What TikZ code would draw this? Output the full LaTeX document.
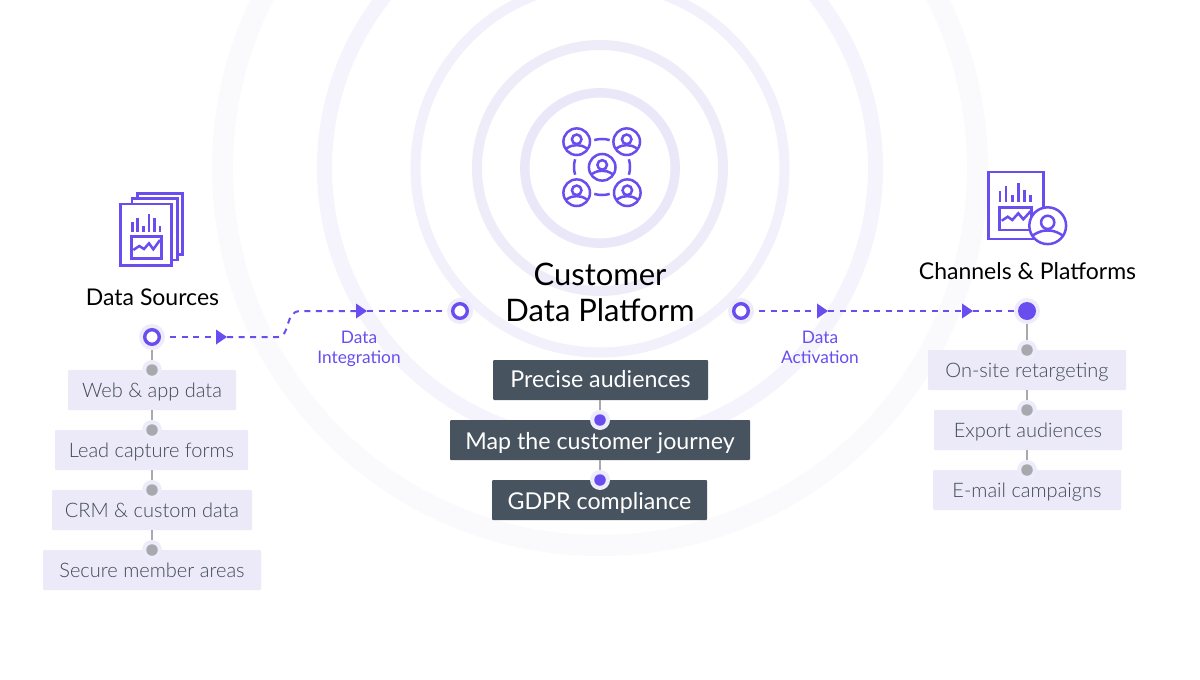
\documentclass[tikz,border=0pt]{standalone}
\usepackage{fontspec}
\setmainfont{Lato}
\newfontfamily\latol{Lato Light}
\usetikzlibrary{arrows.meta}
\definecolor{pur}{HTML}{6A4DEE}
\definecolor{ink}{HTML}{47535E}
\definecolor{pale}{HTML}{ECEAF8}
\definecolor{halo}{HTML}{EEECFA}
\definecolor{gry}{HTML}{A7A9AE}
\definecolor{txt}{HTML}{3E4954}
\definecolor{ringa}{HTML}{EAE8F8}
\definecolor{ringb}{HTML}{EEECF9}
\definecolor{ringc}{HTML}{F1F0FB}
\definecolor{ringd}{HTML}{F5F4FC}
\definecolor{ringe}{HTML}{FAFAFD}
\newcommand{\fs}[1]{\fontsize{#1}{#1}\selectfont}
\tikzset{
  x=1pt,y=-1pt,
  lightbox/.style={fill=pale,text=txt,minimum height=40pt,inner sep=0pt,rounded corners=1pt,font=\latol\fs{20},text height=14pt,text depth=0pt},
  darkbox/.style={fill=ink,text=white,minimum height=40pt,inner sep=0pt,rounded corners=1pt,font=\fs{23.2},text height=14pt,text depth=0pt},
  title/.style={text=black,align=center,inner sep=0pt},
  lab/.style={text=pur,align=center,inner sep=0pt,font=\fs{17.3},text height=12pt,text depth=3pt},
  ringdot/.style={circle,draw=pur,fill=white,line width=3.4pt,minimum size=14.6pt,inner sep=0pt},
  fulldot/.style={circle,fill=pur,minimum size=18pt,inner sep=0pt},
  graydot/.style={circle,fill=gry,minimum size=11.5pt,inner sep=0pt},
  purdot/.style={circle,fill=pur,minimum size=11.5pt,inner sep=0pt},
  halodot/.style={circle,fill=halo,minimum size=#1,inner sep=0pt},
  flow/.style={draw=pur,line width=2pt,dash pattern=on 6pt off 5.5pt,-{Triangle[length=11pt,width=14.5pt]}},
  flowend/.style={draw=pur,line width=2pt,dash pattern=on 6pt off 5.5pt},
  stem/.style={draw=gry,line width=1.8pt},
  ico/.style={draw=pur,line width=2.8pt},
  icot/.style={draw=pur,line width=2.5pt},
}
\newcommand{\person}[3]{%
  \begin{scope}[shift={(#1,#2)}]
    \draw[icot,fill=white] (0,0) circle (#3);
    \draw[icot] (0,-.18*#3) circle (.36*#3);
    \draw[icot] (-.8*#3,.52*#3) .. controls (-.45*#3,.3*#3) and (-.25*#3,.26*#3) .. (0,.26*#3) .. controls (.25*#3,.26*#3) and (.45*#3,.3*#3) .. (.8*#3,.52*#3);
  \end{scope}}
\begin{document}
\begin{tikzpicture}
\useasboundingbox (0,0) rectangle (1200,680);
\fill[white] (0,0) rectangle (1200,680);
% rings
\draw[line width=21pt,draw=ringe] (600,168) circle (377.5);
\draw[line width=15pt,draw=ringd] (600,168) circle (275.5);
\draw[line width=10pt,draw=ringc] (600,168) circle (184.5);
\draw[line width=10pt,draw=ringb] (600,168) circle (123);
\draw[line width=9.5pt,draw=ringa] (600,168) circle (75.2);
% centre icon
\draw[icot] (602,167) ++(74:28) arc (74:106:28);
\draw[icot] (602,167) ++(-106:28) arc (-106:-74:28);
\draw[icot] (602,167) ++(164:28) arc (164:196:28);
\draw[icot] (602,167) ++(-16:28) arc (-16:16:28);
\person{576.7}{141.7}{13.3}
\person{626.7}{141.7}{13.3}
\person{602.2}{167.3}{13.3}
\person{576.7}{192.7}{13.3}
\person{627.3}{192.7}{13.3}
% data sources icon
\draw[ico] (137.7,198.8) -- (137.7,193.3) -- (182.7,193.3) -- (182.7,254.7) -- (177.3,254.7);
\draw[ico] (132,204) -- (132,198.8) -- (177.3,198.8) -- (177.3,260) -- (171.3,260);
\draw[ico] (120.7,204) -- (171.3,204) -- (171.3,265.5) -- (120.7,265.5) -- cycle;
\foreach \x/\t in {132.3/221.7,137.7/218.3,143.3/226,149/214.3,154.3/218.3,160/226}
  \draw[ico] (\x,232.3) -- (\x,\t);
\draw[ico] (131.3,236.7) rectangle (161.3,258.7);
\draw[icot] (133.3,250) -- (139.3,246) -- (144,249) -- (149,243.3) -- (153.3,249.3) -- (160,240);
% channels icon
\draw[ico] (988.2,172) rectangle (1043.3,239);
\foreach \x/\t in {1000/191,1006/186,1012.3/195,1018.7/182.7,1024.7/190,1030.7/195}
  \draw[ico] (\x,201.7) -- (\x,\t);
\draw[ico] (999.7,207.3) rectangle (1031.7,230);
\draw[icot] (1001.7,220.7) -- (1007.7,216.7) -- (1012.3,220) -- (1018.3,213.3) -- (1023.3,219.3) -- (1031.7,210);
\person{1047.7}{225.7}{18.4}
% titles
\node[title,font=\fs{23}] (tsrc) at (152.5,297) {Data Sources};
\node[title,font=\fs{23}] (tchan) at (1027.5,271) {Channels \& Platforms};
\node[title,font=\fs{31},text height=22pt,text depth=0pt] (t1) at (600,274) {Customer};
\node[title,font=\fs{31},text height=22pt,text depth=0pt] (t2) at (600,310) {Data Platform};
\node[lab] (l1a) at (359,339) {Data};
\node[lab] (l1b) at (359,359) {Integration};
\node[lab] (l2a) at (820,339) {Data};
\node[lab] (l2b) at (820,359) {Activation};
% flow dots
\node[halodot=26pt] (hs) at (152,337) {};
\node[ringdot] (s) at (152,337) {};
\node[halodot=26pt] (hi) at (460,311) {};
\node[ringdot] (i) at (460,311) {};
\node[halodot=26pt] (ha) at (741,311) {};
\node[ringdot] (a) at (741,311) {};
\node[halodot=26pt] (he) at (1027,311) {};
\node[fulldot] (e) at (1027,311) {};
\coordinate (f1) at (227,337);
\coordinate (f2) at (367,311);
\coordinate (f3) at (828,311);
\coordinate (f4) at (973,311);
\draw[flow] ([xshift=18pt]s.center) -- (f1);
\draw[flow] (f1) -- (278,337) .. controls (291,336) and (284,312) .. (300,311) -- (f2);
\draw[flowend] (f2) -- (hi.west);
\draw[flow] ([xshift=18pt]a.center) -- (f3);
\draw[flow] (f3) -- (f4);
\draw[flowend] (f4) -- (he.west);
% left list
\node[lightbox,minimum width=168pt] (b1) at (152,390) {Web \& app data};
\node[lightbox,minimum width=193pt] (b2) at (151.5,450) {Lead capture forms};
\node[lightbox,minimum width=200pt] (b3) at (152,510) {CRM \& custom data};
\node[lightbox,minimum width=218pt] (b4) at (152,570) {Secure member areas};
\node[halodot=20pt] (h1) at (152,370) {};
\node[halodot=20pt] (h2) at (152,430) {};
\node[halodot=20pt] (h3) at (152,490) {};
\node[halodot=20pt] (h4) at (152,550) {};
\node[graydot] (d1) at (152,370) {};
\node[graydot] (d2) at (152,430) {};
\node[graydot] (d3) at (152,490) {};
\node[graydot] (d4) at (152,550) {};
\draw[stem] (hs.south) -- (h1.north);
\draw[stem] (d1 |- b1.south) -- (h2.north);
\draw[stem] (d2 |- b2.south) -- (h3.north);
\draw[stem] (d3 |- b3.south) -- (h4.north);
% right list
\node[lightbox,minimum width=198pt] (r1) at (1027,370) {On-site retargeting};
\node[lightbox,minimum width=188pt] (r2) at (1028,430) {Export audiences};
\node[lightbox,minimum width=188pt] (r3) at (1027,490) {E-mail campaigns};
\node[halodot=20pt] (g1) at (1027,350) {};
\node[halodot=20pt] (g2) at (1027,410) {};
\node[halodot=20pt] (g3) at (1027,470) {};
\node[graydot] (k1) at (1027,350) {};
\node[graydot] (k2) at (1027,410) {};
\node[graydot] (k3) at (1027,470) {};
\draw[stem] (he.south) -- (g1.north);
\draw[stem] (k1 |- r1.south) -- (g2.north);
\draw[stem] (k2 |- r2.south) -- (g3.north);
% centre list
\node[darkbox,minimum width=215pt] (c1) at (600.5,380) {Precise audiences};
\node[darkbox,minimum width=300pt,text height=18pt] (c2) at (600,440) {Map the customer journey};
\node[darkbox,minimum width=215pt,text height=18pt] (c3) at (599.5,500) {GDPR compliance};
\node[halodot=20pt] (m1) at (600,420) {};
\node[halodot=20pt] (m2) at (600,480) {};
\node[purdot] (p1) at (600,420) {};
\node[purdot] (p2) at (600,480) {};
\draw[stem] (m1 |- c1.south) -- (m1.north);
\draw[stem] (m2 |- c2.south) -- (m2.north);
\end{tikzpicture}
\end{document}
